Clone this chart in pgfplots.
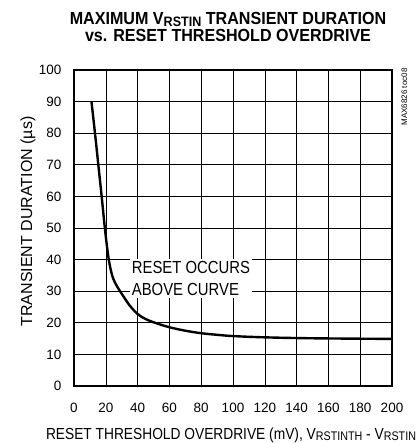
\documentclass[border=0pt]{standalone}
\usepackage{fontspec}
\setmainfont{Liberation Sans}
\newfontfamily\narrowT[FakeStretch=0.92]{Liberation Sans}
\newfontfamily\narrowB[FakeStretch=0.86]{Liberation Sans}
\newfontfamily\narrowC[FakeStretch=0.85]{Liberation Sans}
\usepackage{pgfplots}
\pgfplotsset{compat=1.18}
\newcommand\sub[1]{\raisebox{-0.2ex}{\fontsize{0.78\dimexpr\fontdimen6\font\relax}{1em}\selectfont #1}}
\begin{document}
\begin{tikzpicture}[x=1bp,y=1bp]
\path[use as bounding box] (-74,-58) rectangle (344,386);
\begin{axis}[
  at={(0,0)}, anchor=south west,
  scale only axis, width=318bp, height=316bp,
  xmin=0, xmax=200, ymin=0, ymax=100,
  xtick={0,20,...,200}, ytick={0,10,...,100},
  grid=major,
  major grid style={black, line width=0.6bp},
  major tick length=0pt,
  axis line style={line width=1.8bp},
  /pgf/number format/assume math mode=true,
  ticklabel style={font=\fontsize{13.5bp}{16bp}\selectfont},
  yticklabel style={xshift=-9bp},
  xticklabel style={yshift=-14bp},
  clip=false,
]
\addplot[black, line width=2.4bp, smooth, tension=0.6] coordinates {
(11,90) (13.2,80) (15.3,70) (17.4,60) (19.4,50) (21.3,42) (22.6,38) (24.5,34.2) (27,31.6) (30,29.2) (35,25.5) (40,22.8) (45,21.2) (51,20) (60,18.6) (70,17.5) (80,16.7) (90,16.2) (100,15.8) (120,15.4) (150,15.1) (200,14.9)
};
\node[fill=white, align=left, anchor=north west, inner sep=2bp, font=\narrowC\fontsize{17.5bp}{22bp}\selectfont] at (axis cs:35,40.2) {RESET OCCURS\\ABOVE CURVE};
\end{axis}
\node[anchor=base, font=\narrowT\bfseries\fontsize{17.5bp}{17.5bp}\selectfont] at (154,361) {MAXIMUM V\sub{RSTIN} TRANSIENT DURATION};
\node[anchor=base, font=\narrowT\bfseries\fontsize{17.5bp}{17.5bp}\selectfont] at (154,344) {vs. RESET THRESHOLD OVERDRIVE};
\node[anchor=base, font=\narrowB\fontsize{16bp}{16bp}\selectfont] at (157,-53) {RESET THRESHOLD OVERDRIVE (mV), V\sub{RSTINTH} - V\sub{RSTIN}};
\node[anchor=base, rotate=90, font=\fontsize{16bp}{16bp}\selectfont] at (-42,164.5) {TRANSIENT DURATION (\textmu s)};
\node[anchor=base, rotate=90, font=\fontsize{8bp}{8bp}\selectfont] at (333,289) {MAX6826 toc08};
\end{tikzpicture}
\end{document}
